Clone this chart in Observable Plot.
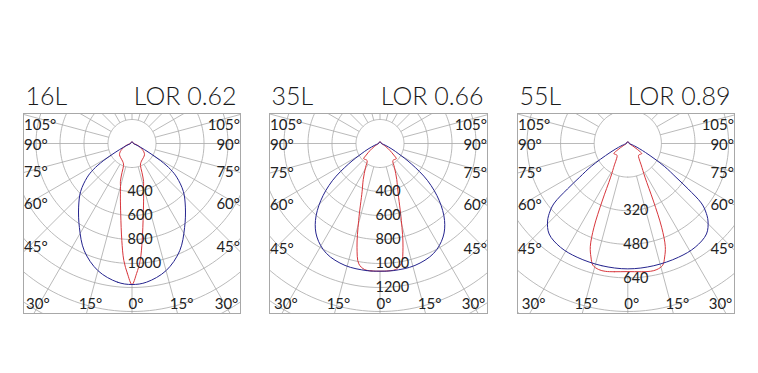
<!DOCTYPE html>
<html><head><meta charset="utf-8">
<script src="https://cdn.jsdelivr.net/npm/d3@7"></script>
<script src="https://cdn.jsdelivr.net/npm/@observablehq/plot@0.6"></script>
<style>
body{margin:0;background:#fff;}
#wrap{position:relative;width:758px;height:373px;overflow:hidden;background:#fff;}
#wrap svg{position:absolute;overflow:visible;}
</style></head><body><div id="wrap"></div>
<script>
// ---------- data ----------
const titles = ["16L", "35L", "55L"];
const lorLabels = ["LOR 0.62", "LOR 0.66", "LOR 0.89"];
const sideAngles = [45, 60, 75, 90, 105];
const bottomAngles = [0, 15, 30];
const gridAngles = [15, 30, 45, 60, 75, 90, 105, 120, 135, 150, 165, 180, 195, 210, 225, 240, 255, 270, 285, 300, 315, 330, 345];
const ringStep = [200, 200, 160];
const valueLabels = [[400, 600, 800, 1000], [400, 600, 800, 1000, 1200], [320, 480, 640]];

// 16L  (gamma in degrees from nadir, intensity)
const blue16Gamma = [0, 6, 15, 24, 32, 40, 47, 53, 56, 59, 62, 66, 72, 80, 90, 135, 180];
const blue16I     = [1175, 1162, 1097, 978, 827, 692, 585, 467, 390, 280, 160, 80, 35, 18, 12, 12, 12];
const red16Gamma  = [0, 2, 4, 6, 9, 12, 15, 17, 19, 21, 25, 32, 40, 48, 55, 65, 75, 90, 135, 180];
const red16I      = [1175, 1085, 977, 812, 600, 465, 370, 330, 255, 196, 175, 160, 150, 140, 120, 75, 40, 12, 12, 12];
// 35L
const blue35Gamma = [0, 6, 16, 26, 34, 40, 46, 52, 57, 61, 65, 72, 80, 90, 135, 180];
const blue35I     = [1064, 1065, 1057, 1019, 940, 837, 687, 504, 310, 180, 110, 45, 20, 12, 12, 12];
const red35Gamma  = [0, 4, 7, 10, 12.5, 15.5, 20.5, 25, 31, 37, 42, 47, 50, 55, 62, 72, 90, 135, 180];
const red35I      = [1064, 1064, 1058, 1018, 885, 666, 425, 330, 235, 178, 180, 186, 150, 100, 55, 25, 12, 12, 12];
// 55L
const blue55Gamma = [0, 12, 24, 33, 41, 46, 49, 51, 53, 55, 58, 63, 70, 80, 90, 135, 180];
const blue55I     = [597, 595, 593, 589, 571, 531, 490, 450, 360, 280, 205, 95, 35, 12, 7, 7, 7];
const red55Gamma  = [0, 6, 10, 13, 16, 18, 20, 22, 24, 27, 32, 37, 42, 48, 54, 58, 64, 75, 90, 135, 180];
const red55I      = [610, 614, 618, 616, 603, 568, 522, 430, 300, 180, 120, 88, 76, 78, 82, 55, 25, 10, 7, 7, 7];

// ---------- layout ----------
const TOP = 113, BOTTOM = 313, CY = 143, SVG_TOP = 78, PAD = 4;
const BLUE = "#25248e", RED = "#d8363c", GRID = "#a8a8a8", FRAME = "#a8a8a8", INK = "#222";
const FONT = "Lato, 'Open Sans', sans-serif";

const panels = [
  {left: 23,  right: 240, cx: 131.5, k: 0.12,  curves: [[blue16Gamma, blue16I], [red16Gamma, red16I]]},
  {left: 269, right: 487, cx: 379.5, k: 0.12,  curves: [[blue35Gamma, blue35I], [red35Gamma, red35I]]},
  {left: 517, right: 734, cx: 627.3, k: 0.21,  curves: [[blue55Gamma, blue55I], [red55Gamma, red55I]]}
];

const rad = d => d * Math.PI / 180;

function closedPath(gam, inten) {
  const pts = [];
  for (let i = 0; i < gam.length; i++) {
    pts.push({x: -inten[i] * Math.sin(rad(gam[i])), y: inten[i] * Math.cos(rad(gam[i]))});
  }
  for (let i = gam.length - 2; i >= 1; i--) {
    pts.push({x: inten[i] * Math.sin(rad(gam[i])), y: inten[i] * Math.cos(rad(gam[i]))});
  }
  return pts;
}

const wrap = document.getElementById("wrap");

panels.forEach((p, idx) => {
  const fw = p.right - p.left;
  const W = fw + 2 * PAD, H = 240;
  const fy0 = TOP - SVG_TOP, fy1 = BOTTOM - SVG_TOP;
  const k = p.k;
  const xd0 = (p.left - p.cx) / k, xd1 = (p.right - p.cx) / k;
  const yd0 = (TOP - CY) / k, yd1 = (BOTTOM - CY) / k;
  const step = ringStep[idx];

  // rings
  const maxR = Math.max(Math.hypot(xd0, yd1), Math.hypot(xd1, yd1), Math.hypot(xd0, yd0));
  const rings = d3.range(step, maxR + step, step);
  const ringPts = [];
  rings.forEach(v => { for (let a = 0; a <= 360; a += 2) ringPts.push({ring: v, x: v * Math.sin(rad(a)), y: v * Math.cos(rad(a))}); });

  // radial lines from the inner ring outward; the 0° axis only below the curves
  const radials = gridAngles.map(a => ({
    x1: step * Math.sin(rad(a)), y1: step * Math.cos(rad(a)),
    x2: maxR * 1.2 * Math.sin(rad(a)), y2: maxR * 1.2 * Math.cos(rad(a))
  }));
  const nadirI = Math.max(p.curves[0][1][0], p.curves[1][1][0]);
  radials.push({x1: 0, y1: nadirI, x2: 0, y2: maxR * 1.2});

  // angle labels
  const halfIn = (p.cx - p.left - 6) / k;
  const sideLabels = [];
  sideAngles.forEach(a => {
    let y = halfIn / Math.tan(rad(a)) + 1.5 / k;
    y = Math.max(y, yd0 + 11.5 / k);
    sideLabels.push({x: xd0, y, t: a + "°", side: "L"});
    sideLabels.push({x: xd1, y, t: a + "°", side: "R"});
  });
  const botLabels = [];
  const yb = yd1 - 9 / k;
  bottomAngles.forEach(a => {
    const xs = a === 0 ? [0] : [-1, 1];
    xs.forEach(s => {
      let x = s * yd1 * Math.tan(rad(a)) + 4 / k;
      x = Math.max(Math.min(x, xd1 - 14 / k), xd0 + 14 / k);
      botLabels.push({x, y: yb, t: a + "°"});
    });
  });

  const vals = valueLabels[idx].map(v => ({x: 0, y: v, t: String(v)}));

  const marks = [
    Plot.line(ringPts, {x: "x", y: "y", z: "ring", stroke: GRID, strokeWidth: 0.8, clip: true}),
    Plot.link(radials, {x1: "x1", y1: "y1", x2: "x2", y2: "y2", stroke: GRID, strokeWidth: 0.8, clip: true}),
    Plot.frame({stroke: FRAME, strokeWidth: 1}),
    Plot.line(closedPath(p.curves[1][0], p.curves[1][1]), {x: "x", y: "y", curve: "catmull-rom-closed", stroke: RED, strokeWidth: 1, clip: true}),
    Plot.line(closedPath(p.curves[0][0], p.curves[0][1]), {x: "x", y: "y", curve: "catmull-rom-closed", stroke: BLUE, strokeWidth: 1, clip: true}),
    Plot.text(sideLabels.filter(d => d.side === "L"), {x: "x", y: "y", text: "t", textAnchor: "start", dx: 0.5, fontSize: 15, fill: INK}),
    Plot.text(sideLabels.filter(d => d.side === "R"), {x: "x", y: "y", text: "t", textAnchor: "end", dx: -0.5, fontSize: 15, fill: INK}),
    Plot.text(botLabels, {x: "x", y: "y", text: "t", textAnchor: "middle", fontSize: 15, fill: INK}),
    Plot.text(vals, {x: "x", y: "y", text: "t", textAnchor: "start", dx: -4.5, fontSize: 14.5, fill: INK}),
    Plot.text([titles[idx]], {frameAnchor: "top-left", text: d => d, textAnchor: "start", lineAnchor: "bottom", dx: 2, dy: -9, fontSize: 25, fontWeight: 300, fill: "#1a1a1a"}),
    Plot.text([lorLabels[idx]], {frameAnchor: "top-right", text: d => d, textAnchor: "end", lineAnchor: "bottom", dx: -4, dy: -9, fontSize: 25, fontWeight: 300, fill: "#1a1a1a"})
  ];

  const svg = Plot.plot({
    width: W, height: H,
    marginLeft: PAD, marginRight: PAD, marginTop: fy0, marginBottom: H - fy1,
    x: {domain: [xd0, xd1], range: [PAD, PAD + fw], axis: null},
    y: {domain: [yd0, yd1], range: [fy0, fy1], axis: null},
    style: {fontFamily: FONT, background: "transparent", overflow: "visible"},
    marks
  });
  svg.style.left = (p.left - PAD) + "px";
  svg.style.top = SVG_TOP + "px";
  wrap.appendChild(svg);
});
</script>
</body></html>
